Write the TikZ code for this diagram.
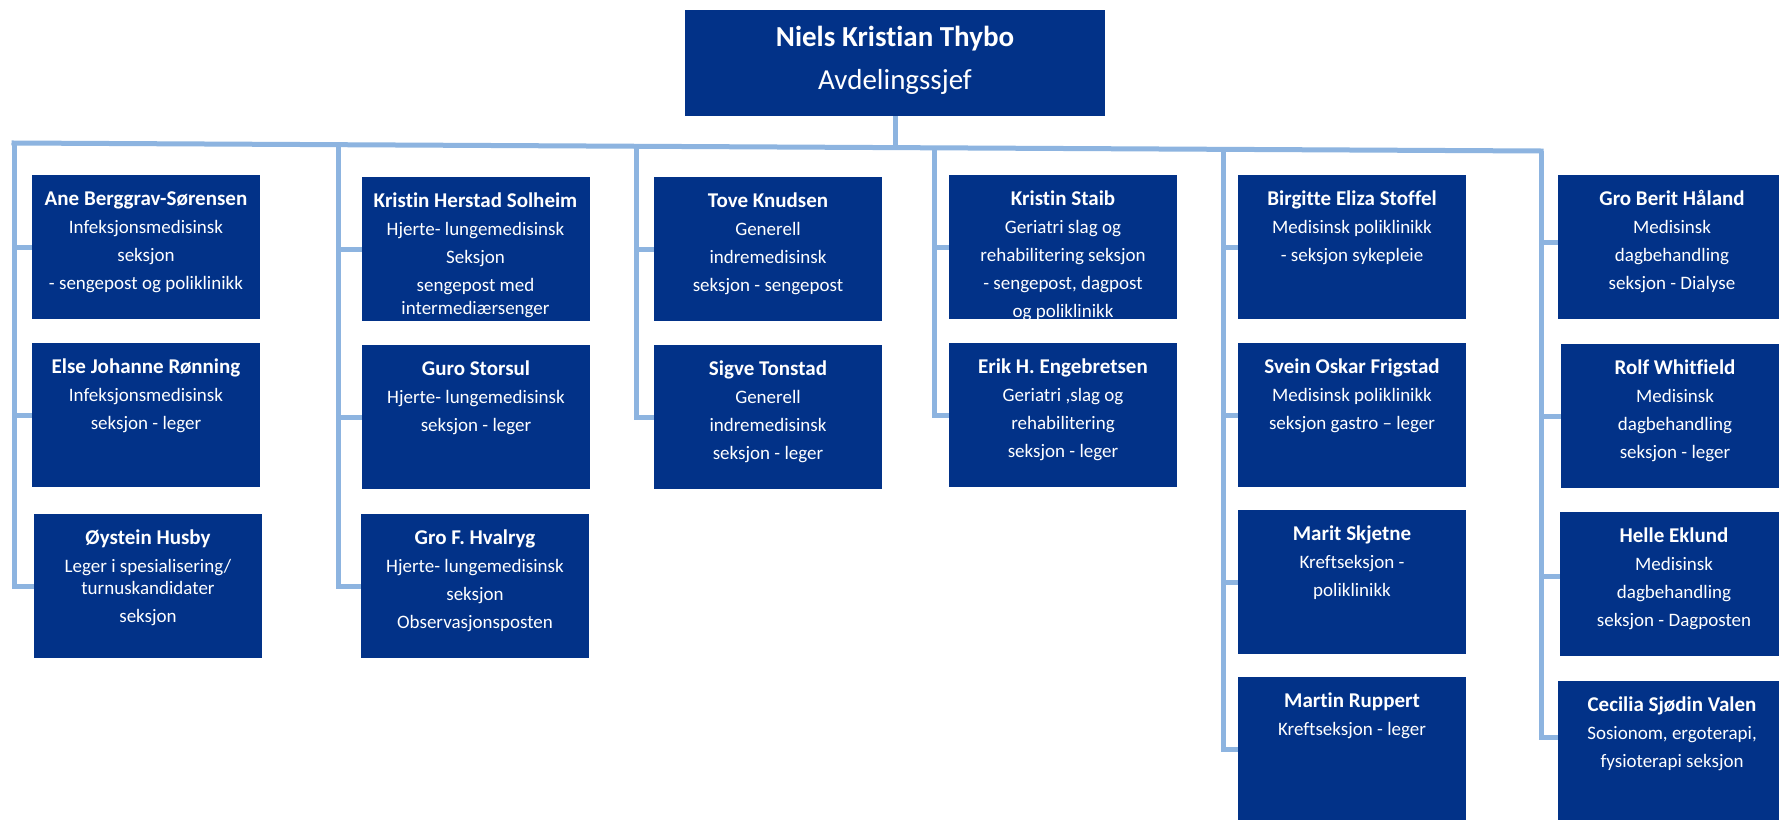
\documentclass[tikz,border=0pt]{standalone}
\usepackage{fontspec}
\setmainfont{Carlito}[Ligatures={NoCommon}]
\definecolor{boxblue}{HTML}{023288}
\definecolor{lineblue}{HTML}{8DB4E0}
\newcommand\orgnamefont{\fontsize{21}{28}\selectfont\bfseries}
\newcommand\orgbodyfont{\fontsize{19}{28}\selectfont}
\newcommand\orgbox[4]{%
  \node[box] (#1) at (#2) {};
  \node[boxtext] (#1-t) at ([yshift=-12pt]#1.north) {\rule{0pt}{18pt}{\orgnamefont #3}\\#4};
}
\begin{document}
\begin{tikzpicture}[x=1pt,y=-1pt,
  box/.style={fill=boxblue, minimum width=228pt, minimum height=144pt, inner sep=0pt, outer sep=0pt},
  boxtext/.style={anchor=north, align=center, text=white, inner sep=0pt, font=\orgbodyfont},
  conn/.style={draw=lineblue, line width=5pt, line join=miter},
  mainline/.style={conn, line cap=rect}]
\useasboundingbox[fill=white] (0,0) rectangle (1779,819);

% top
\node[box, minimum width=420pt, minimum height=106pt] (top) at (895,63) {};
\node[boxtext, font=\fontsize{29}{43}\selectfont] (top-t) at ([yshift=-11pt]top.north)
  {\rule{0pt}{25pt}{\bfseries Niels Kristian Thybo}\\Avdelingssjef};

% column 1
\orgbox{ane}{146,247}{Ane Berggrav-Sørensen}{Infeksjonsmedisinsk\\seksjon\\- sengepost og poliklinikk}
\orgbox{elsej}{146,415}{Else Johanne Rønning}{Infeksjonsmedisinsk\\seksjon - leger}
\orgbox{oystein}{148,586}{Øystein Husby}{Leger i spesialisering/\\[-6pt]turnuskandidater\\seksjon}
% column 2
\orgbox{kristinh}{475.5,249}{Kristin Herstad Solheim}{Hjerte- lungemedisinsk\\Seksjon\\sengepost med\\[-5pt]intermediærsenger}
\orgbox{guro}{476,417}{Guro Storsul}{Hjerte- lungemedisinsk\\seksjon - leger}
\orgbox{grof}{475,586}{Gro F. Hvalryg}{Hjerte- lungemedisinsk\\seksjon\\Observasjonsposten}
% column 3
\orgbox{tove}{768,249}{Tove Knudsen}{Generell\\indremedisinsk\\seksjon - sengepost}
\orgbox{sigve}{768,417}{Sigve Tonstad}{Generell\\indremedisinsk\\seksjon - leger}
% column 4
\orgbox{staib}{1063,247}{Kristin Staib}{Geriatri slag og\\rehabilitering seksjon\\- sengepost, dagpost\\og poliklinikk}
\orgbox{erik}{1063,415}{Erik H. Engebretsen}{Geriatri ,slag og\\rehabilitering\\seksjon - leger}
% column 5
\orgbox{birgitte}{1352,247}{Birgitte Eliza Stoffel}{Medisinsk poliklinikk\\- seksjon sykepleie}
\orgbox{svein}{1352,415}{Svein Oskar Frigstad}{Medisinsk poliklinikk\\seksjon gastro – leger}
\orgbox{marit}{1352,582}{Marit Skjetne}{Kreftseksjon -\\poliklinikk}
\orgbox{martin}{1352,749}{Martin Ruppert}{Kreftseksjon - leger}
% column 6
\orgbox{groberit}{1672,247}{Gro Berit Håland}{Medisinsk\\dagbehandling\\seksjon - Dialyse}
\orgbox{rolf}{1675,416}{Rolf Whitfield}{Medisinsk\\dagbehandling\\seksjon - leger}
\orgbox{helle}{1674,584}{Helle Eklund}{Medisinsk\\dagbehandling\\seksjon - Dagposten}
\orgbox{cecilia}{1672,753}{Cecilia Sjødin Valen}{Sosionom, ergoterapi,\\fysioterapi seksjon}

% connectors
\coordinate (hl) at (14,143);
\coordinate (hr) at (1541,151);
\draw[mainline] (hl) -- (hr);
\coordinate (j0) at (895,147.7);
\draw[conn] (top.south) -- (j0);

\coordinate (c1) at (14,143);
\coordinate (c2) at (338,144.7);
\coordinate (c3) at (636,146.3);
\coordinate (c4) at (934,147.8);
\coordinate (c5) at (1223,149.3);
\coordinate (c6) at (1541,151);

\draw[conn] (c1) |- (oystein.west);
\draw[conn] (c1 |- ane.west) -- (ane.west);
\draw[conn] (c1 |- elsej.west) -- (elsej.west);

\draw[conn] (c2) |- (grof.west);
\draw[conn] (c2 |- kristinh.west) -- (kristinh.west);
\draw[conn] (c2 |- guro.west) -- (guro.west);

\draw[conn] (c3) |- (sigve.west);
\draw[conn] (c3 |- tove.west) -- (tove.west);

\draw[conn] (c4) |- (erik.west);
\draw[conn] (c4 |- staib.west) -- (staib.west);

\draw[conn] (c5) |- (martin.west);
\draw[conn] (c5 |- birgitte.west) -- (birgitte.west);
\draw[conn] (c5 |- svein.west) -- (svein.west);
\draw[conn] (c5 |- marit.west) -- (marit.west);

\coordinate (gbw) at ([yshift=5pt]groberit.west);
\coordinate (hew) at ([yshift=8pt]helle.west);
\coordinate (cew) at ([yshift=16pt]cecilia.west);
\draw[conn] (c6) |- (cew);
\draw[conn] (c6 |- gbw) -- (gbw);
\draw[conn] (c6 |- rolf.west) -- (rolf.west);
\draw[conn] (c6 |- hew) -- (hew);
\end{tikzpicture}
\end{document}
